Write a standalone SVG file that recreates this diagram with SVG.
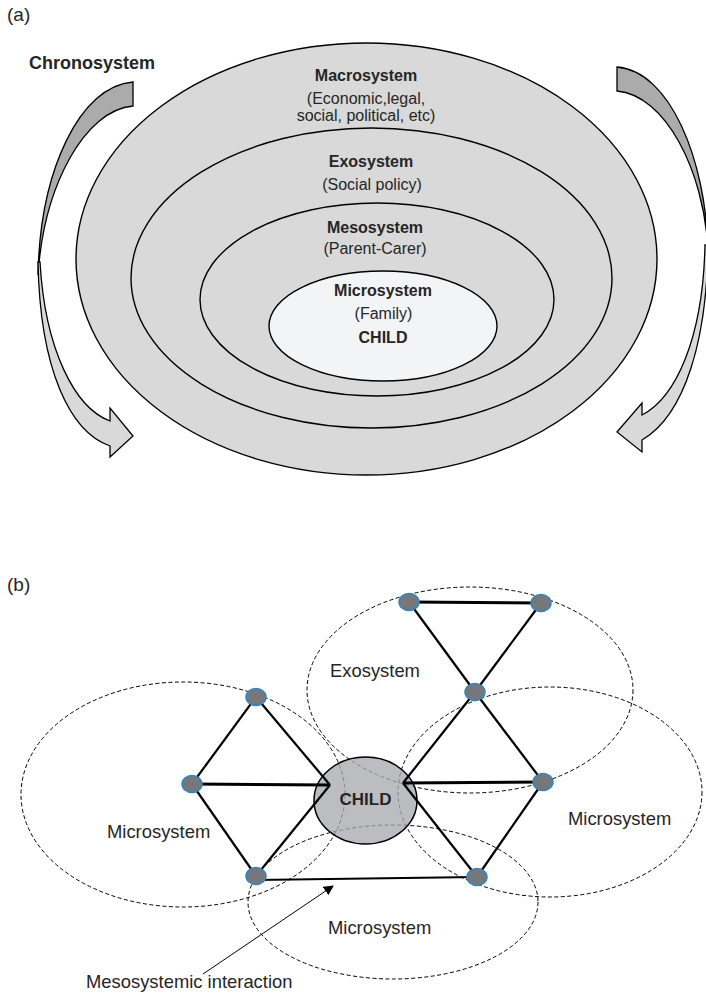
<svg xmlns="http://www.w3.org/2000/svg" width="706" height="995" viewBox="0 0 706 995">
<style>
text{font-family:"Liberation Sans",Arial,sans-serif;fill:#262626}
.b{font-weight:bold}
.a16{font-size:16px;text-anchor:middle}
.r18{font-size:18.4px}
.ring{stroke:#000;stroke-width:1.4;fill:#d9d9d9}
.dash{fill:none;stroke:#000;stroke-width:1;stroke-dasharray:4 2.5}
.ln{stroke:#000;stroke-width:2.2;fill:none}
.lnt{stroke:#000;stroke-width:3;fill:none}
.nd{fill:#76777b;stroke:#2f86c4;stroke-width:1.5}
.arr{stroke:#000;stroke-width:1.3;stroke-linejoin:miter}
</style>
<defs>
<marker id="ah" viewBox="0 0 10 10" refX="9" refY="5" markerWidth="10" markerHeight="10" markerUnits="userSpaceOnUse" orient="auto">
<path d="M0,0 L10,5 L0,10 Z" fill="#000"/>
</marker>
</defs>
<rect width="706" height="995" fill="#fff"/>

<!-- Part (a) -->
<text x="7" y="21" style="font-size:19px">(a)</text>
<g id="chronosystem">
<text x="29" y="69" class="b" style="font-size:18px">Chronosystem</text>
<path class="arr" fill="#ababab" d="M133,82 C80,86 40,170 38,275 C44,185 85,110 133,106 Z"/>
<path class="arr" fill="#d9d9d9" d="M38,262 C40,370 70,432 110,446 L110,457 L133,436 L110,408 L110,421 C75,408 45,350 40,262 Z"/>
<path class="arr" fill="#ababab" d="M617,67 C670,71 706,160 708,250 C704,170 665,95 617,91 Z"/>
<path class="arr" fill="#d9d9d9" d="M708,245 C707,340 685,415 642,440 L642,452 L617,432 L642,403 L642,415 C675,398 703,340 705,245 Z"/>
</g>
<g id="macrosystem">
<ellipse class="ring" cx="366.5" cy="259" rx="290.5" ry="216"/>
<text x="366" y="81" class="a16 b">Macrosystem</text>
<text x="366" y="104" class="a16">(Economic,legal,</text>
<text x="366" y="121" class="a16">social, political, etc)</text>
</g>
<g id="exosystem">
<ellipse class="ring" cx="371.5" cy="278" rx="240.5" ry="150"/>
<text x="371" y="167" class="a16 b">Exosystem</text>
<text x="372" y="190" class="a16">(Social policy)</text>
</g>
<g id="mesosystem">
<ellipse class="ring" cx="377" cy="299.5" rx="177" ry="96.5"/>
<text x="375" y="233" class="a16 b">Mesosystem</text>
<text x="375" y="254" class="a16">(Parent-Carer)</text>
</g>
<g id="microsystem">
<ellipse class="ring" cx="383" cy="326" rx="114" ry="55" fill="#f3f4f6" style="fill:#f3f4f6"/>
<text x="383" y="296" class="a16 b">Microsystem</text>
<text x="383.5" y="319" class="a16">(Family)</text>
<text x="383" y="343" class="a16 b">CHILD</text>
</g>

<!-- Part (b) -->
<text x="7" y="591" style="font-size:19px">(b)</text>
<g id="systems-b">
<ellipse id="micro-left" class="dash" cx="183" cy="794.5" rx="162" ry="112.5"/>
<ellipse id="exo-b" class="dash" cx="470" cy="690" rx="163" ry="103"/>
<ellipse id="micro-right" class="dash" cx="550" cy="792" rx="152" ry="105"/>
<ellipse id="micro-bottom" class="dash" cx="393" cy="902" rx="145" ry="77"/>
</g>
<g id="child-b">
<ellipse cx="365.5" cy="800.5" rx="51.5" ry="43.5" fill="#a9abb0" fill-opacity="0.78" stroke="#000" stroke-width="1.5"/>
</g>
<g id="connectors">
<line class="ln" x1="256" y1="697" x2="192" y2="784"/>
<line class="ln" x1="192" y1="784" x2="256" y2="876"/>
<line class="lnt" x1="192" y1="784" x2="330" y2="785"/>
<line class="ln" x1="256" y1="697" x2="330" y2="785"/>
<line class="ln" x1="256" y1="876" x2="330" y2="785"/>
<line class="ln" x1="256" y1="880" x2="477" y2="877"/>
<line class="lnt" x1="409" y1="602" x2="541" y2="603"/>
<line class="ln" x1="409" y1="602" x2="475" y2="692"/>
<line class="ln" x1="541" y1="603" x2="475" y2="692"/>
<line class="ln" x1="475" y1="692" x2="543" y2="782"/>
<line class="ln" x1="543" y1="782" x2="477" y2="877"/>
<line class="ln" x1="403" y1="783" x2="475" y2="692"/>
<line class="lnt" x1="403" y1="783" x2="543" y2="782"/>
<line class="ln" x1="403" y1="783" x2="477" y2="877"/>
<line x1="203" y1="974" x2="333" y2="886" stroke="#000" stroke-width="1" marker-end="url(#ah)"/>
</g>
<g id="nodes">
<ellipse id="n1" class="nd" cx="192" cy="784" rx="10" ry="8.5"/>
<ellipse id="n2" class="nd" cx="256" cy="697" rx="10" ry="8.5"/>
<ellipse id="n3" class="nd" cx="256" cy="876" rx="10" ry="8.5"/>
<ellipse id="n4" class="nd" cx="409" cy="602" rx="10" ry="8.5"/>
<ellipse id="n5" class="nd" cx="541" cy="603" rx="10" ry="8.5"/>
<ellipse id="n6" class="nd" cx="475" cy="692" rx="10" ry="8.5"/>
<ellipse id="n7" class="nd" cx="543" cy="782" rx="10" ry="8.5"/>
<ellipse id="n8" class="nd" cx="477" cy="877" rx="10" ry="8.5"/>
</g>
<g id="labels-b">
<text x="365.5" y="805" class="b" style="font-size:17px;text-anchor:middle">CHILD</text>
<text x="330" y="677" class="r18">Exosystem</text>
<text x="107" y="838" class="r18">Microsystem</text>
<text x="568" y="825" class="r18">Microsystem</text>
<text x="328" y="934" class="r18">Microsystem</text>
<text x="86" y="988" class="r18">Mesosystemic interaction</text>
</g>
</svg>
